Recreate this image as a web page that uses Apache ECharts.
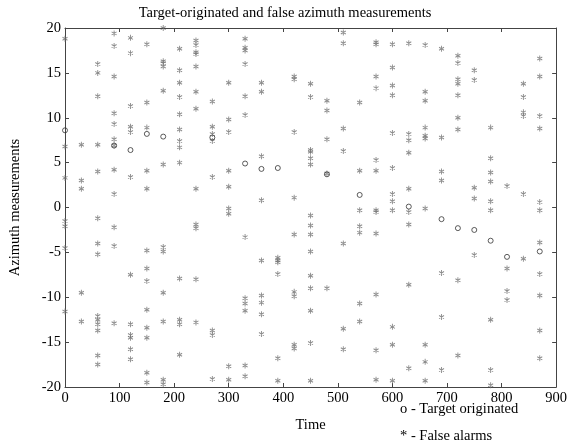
<!DOCTYPE html>
<html lang="en">
<head>
    <meta charset="UTF-8">
    <title>Target-originated and false azimuth measurements</title>
    <script type="text/javascript" src="https://cdn.jsdelivr.net/npm/echarts@6/dist/echarts.min.js"></script>
    <style>
        html, body { margin: 0; padding: 0; background: #fff; }
        #chart { width: 570px; height: 445px; }
    </style>
</head>
<body>
<div id="chart"></div>
<script>
    // 目标量测 (time, azimuth)
    var targetPoints = [
        [0, 8.6], [90, 6.9], [120, 6.4], [150, 8.2], [180, 7.9], [270, 7.8],
        [330, 4.9], [360, 4.3], [390, 4.4], [480, 3.7], [540, 1.4], [630, 0.1],
        [690, -1.3], [720, -2.3], [750, -2.5], [780, -3.7], [810, -5.5], [870, -4.9]
    ];
    // 虚警量测，按扫描时刻分组
    var alarmScans = [
        [0, [18.8, 6.8, 3.3, -1.5, -2.1, -4.5, -11.6]],
        [30, [7.0, 3.0, 2.1, -9.5, -12.7]],
        [60, [16.0, 15.0, 12.4, 7.0, 4.0, -1.2, -4.0, -5.2, -12.1, -12.5, -13.0, -13.7, -16.5, -17.5]],
        [90, [19.4, 18.0, 14.6, 10.5, 9.3, 7.6, 6.9, 4.2, 1.5, -2.2, -4.3, -12.9]],
        [120, [18.9, 17.2, 11.3, 9.0, 8.4, 3.4, -7.5, -13.0, -14.2, -14.5, -15.8, -16.9]],
        [150, [18.2, 11.7, 8.9, 4.1, 2.1, -4.8, -6.8, -8.2, -11.4, -13.4, -14.5, -18.4, -19.5]],
        [180, [20.0, 16.3, 16.1, 15.7, 13.0, 4.8, -4.4, -4.9, -9.5, -12.7, -19.2, -19.7]],
        [210, [17.7, 15.3, 13.9, 12.3, 10.4, 8.7, 7.4, 6.7, 5.0, -7.9, -12.5, -13.0, -16.4]],
        [240, [18.6, 18.1, 17.3, 17.1, 15.7, 12.9, 11.0, 2.1, -1.9, -2.3, -8.0, -12.8]],
        [270, [11.8, 9.0, 8.2, 7.4, 3.4, -13.7, -14.2, -19.1]],
        [300, [13.9, 9.8, 8.4, 4.1, 2.3, -0.1, -0.7, -17.7, -19.2]],
        [330, [18.8, 17.8, 17.5, 16.0, 12.4, 10.3, -3.3, -10.1, -10.7, -11.5, -17.6, -18.8]],
        [360, [13.9, 12.9, 5.7, 0.8, -5.9, -9.8, -10.6, -11.9, -14.1]],
        [390, [-5.6, -5.9, -6.1, -7.4, -16.8, -19.3]],
        [420, [14.6, 14.3, 8.4, 1.1, -3.0, -9.4, -9.9, -15.3, -15.7]],
        [450, [13.8, 12.3, 6.4, 6.2, 5.5, 4.8, -0.9, -2.0, -3.0, -4.9, -7.6, -9.0, -11.5, -15.1, -19.3]],
        [480, [11.9, 10.8, 7.6, 3.8, -9.0]],
        [510, [19.5, 18.3, 8.8, 6.3, -4.0, -13.5, -15.8]],
        [540, [11.7, 4.1, -0.3, -2.1, -2.8, -10.7, -12.7]],
        [570, [18.4, 18.2, 14.6, 13.3, 5.3, 4.1, -0.3, -0.5, -2.9, -9.7, -15.9, -19.2]],
        [600, [18.2, 15.6, 13.6, 12.5, 8.3, 4.4, 1.5, 0.7, -0.3, -13.3, -15.3, -19.3]],
        [630, [18.3, 8.2, 7.5, 6.1, 2.1, -0.5, -1.9, -8.6, -17.9]],
        [660, [18.1, 12.9, 11.9, 8.9, 8.0, 7.7, -0.1, -15.3, -17.2, -19.3]],
        [690, [17.7, 7.8, 4.0, 3.0, -7.3, -12.2, -18.1]],
        [720, [16.9, 16.1, 14.3, 13.8, 12.5, 10.0, 8.7, -8.1, -16.5]],
        [750, [15.3, 14.2, 2.2, 1.0, -5.3]],
        [780, [8.9, 5.5, 3.9, 2.9, 0.7, -0.3, -12.5, -18.1, -19.8]],
        [810, [2.4, -6.8, -9.3, -10.3]],
        [840, [13.8, 12.3, 10.6, 10.2, 1.5, -5.7]],
        [870, [16.6, 14.6, 10.2, 8.8, 0.6, -0.3, -3.9, -7.4, -9.8, -13.7, -16.8]]
    ];
    var legendLines = ['o - Target originated', '* - False alarms'];

    var alarmPoints = [];
    alarmScans.forEach(function (scan) {
        scan[1].forEach(function (az) { alarmPoints.push([scan[0], az]); });
    });

    var serif = '"Liberation Serif", "DejaVu Serif", serif';
    var fs = 14.5;
    var starPath = 'path://M0,-5L0,5M-4.33,-2.5L4.33,2.5M-4.33,2.5L4.33,-2.5';
    var frame = { show: true, onZero: false, lineStyle: { color: '#444', width: 1 } };
    var ticksIn = { show: true, inside: true, length: 4, lineStyle: { color: '#444' } };

    var chart = echarts.init(document.getElementById('chart'));
    chart.setOption({
        animation: false,
        backgroundColor: '#fff',
        title: {
            text: 'Target-originated and false azimuth measurements',
            left: 'center',
            top: 1,
            textStyle: { fontFamily: serif, fontSize: fs, fontWeight: 'normal', color: '#000' }
        },
        grid: { left: 63, right: 12, top: 28, bottom: 58 },
        xAxis: [{
            type: 'value', min: 0, max: 900, interval: 100,
            name: 'Time', nameLocation: 'middle', nameGap: 31,
            nameTextStyle: { fontFamily: serif, fontSize: fs, color: '#000' },
            axisLine: frame, axisTick: ticksIn, splitLine: { show: false },
            axisLabel: { fontFamily: serif, fontSize: fs, color: '#000', margin: 4 }
        }, {
            type: 'value', min: 0, max: 900, interval: 100, position: 'top',
            axisLine: frame, axisTick: ticksIn, splitLine: { show: false },
            axisLabel: { show: false }
        }],
        yAxis: [{
            type: 'value', min: -20, max: 20, interval: 5,
            name: 'Azimuth measurements', nameLocation: 'middle', nameGap: 42,
            nameTextStyle: { fontFamily: serif, fontSize: fs, color: '#000' },
            axisLine: frame, axisTick: ticksIn, splitLine: { show: false },
            axisLabel: { fontFamily: serif, fontSize: fs, color: '#000', margin: 4 }
        }, {
            type: 'value', min: -20, max: 20, interval: 5, position: 'right',
            axisLine: frame, axisTick: ticksIn, splitLine: { show: false },
            axisLabel: { show: false }
        }],
        graphic: legendLines.map(function (txt, i) {
            return {
                type: 'text', left: 400, top: 402 + i * 27,
                style: { text: txt, font: fs + 'px ' + serif, fill: '#000' }
            };
        }),
        series: [{
            name: 'False alarms',
            type: 'scatter',
            data: alarmPoints,
            symbol: starPath,
            symbolSize: [5, 6],
            itemStyle: { color: 'none', borderColor: '#707070', borderWidth: 1 },
            z: 3
        }, {
            name: 'Target originated',
            type: 'scatter',
            data: targetPoints,
            symbol: 'circle',
            symbolSize: 5,
            itemStyle: { color: 'none', borderColor: '#333', borderWidth: 1 },
            z: 4
        }]
    });
</script>
</body>
</html>
